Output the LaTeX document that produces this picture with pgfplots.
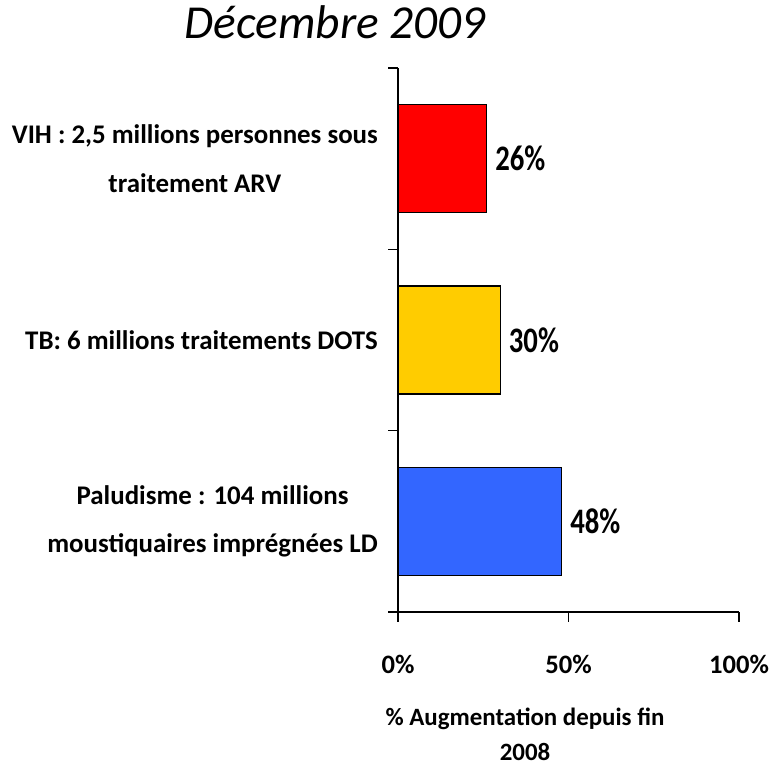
\documentclass[border=0pt]{standalone}
\usepackage{pgfplots}
\pgfplotsset{compat=1.18}
\usepackage{fontspec}
\setmainfont{Carlito}
\usepackage{graphicx}
\definecolor{barred}{RGB}{255,0,0}
\definecolor{baryellow}{RGB}{255,204,0}
\definecolor{barblue}{RGB}{51,102,255}
\begin{document}
\begin{tikzpicture}[x=1bp,y=1bp]
\useasboundingbox (0,0) rectangle (772,769);
\begin{axis}[
  at={(398bp,157bp)}, anchor=south west,
  scale only axis, width=341bp, height=544bp,
  xbar, bar width=108bp,
  xmin=0, xmax=100, ymin=-0.5, ymax=2.5,
  /pgf/number format/assume math mode=true,
  axis lines*=left,
  axis line style={black, line width=1.3pt},
  tick align=outside,
  major tick length=10bp,
  tick style={black, line width=1.3pt},
  xtick={0,50,100}, xticklabels={0\%,50\%,100\%},
  xticklabel style={font=\fontsize{26.7}{30}\selectfont\bfseries, anchor=base, yshift=-51bp, inner sep=0pt},
  ytick={-0.5,0.5,1.5,2.5}, yticklabels={},
  extra y ticks={0,1,2},
  extra y tick labels={{Paludisme : 104 millions\\moustiquaires imprégnées LD},{TB: 6 millions traitements DOTS},{VIH : 2,5 millions personnes sous\\traitement ARV}},
  extra y tick style={major tick length=0pt, yticklabel style={align=center, font=\fontsize{27}{49}\selectfont\bfseries, anchor=east, inner sep=0pt, xshift=-20bp}},
  nodes near coords={\scalebox{0.8}[1]{\pgfmathprintnumber{\pgfplotspointmeta}\%}},
  every node near coord/.append style={font=\fontsize{36}{38}\selectfont\bfseries, anchor=west, inner sep=0pt, xshift=8bp, black},
  clip=false,
]
\addplot+[bar shift=0pt, fill=barblue, draw=black, line width=1.2pt] coordinates {(48,0)};
\addplot+[bar shift=0pt, fill=baryellow, draw=black, line width=1.2pt] coordinates {(30,1)};
\addplot+[bar shift=0pt, fill=barred, draw=black, line width=1.2pt] coordinates {(26,2)};
\end{axis}
\node[anchor=base, inner sep=0pt, font=\fontsize{47.5}{50}\selectfont\itshape] at (335,730) {Décembre 2009};
\node[anchor=base, inner sep=0pt, font=\fontsize{25}{30}\selectfont\bfseries] at (525,43) {\% Augmentation depuis fin};
\node[anchor=base, inner sep=0pt, font=\fontsize{25}{30}\selectfont\bfseries] at (525,8) {2008};
\end{tikzpicture}
\end{document}
